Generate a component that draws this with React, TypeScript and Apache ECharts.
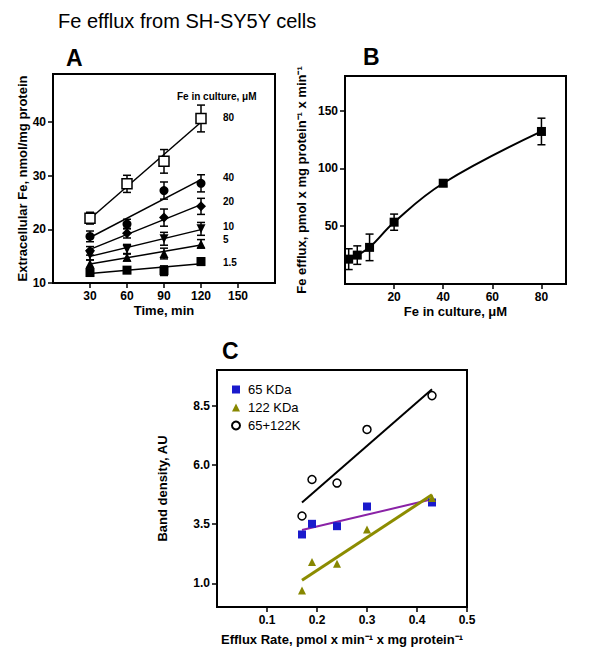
import React, { useEffect, useRef } from "react";
import * as echarts from "echarts";

// ---------- Panel A data ----------
const timeMin = [30, 60, 90, 120];
const aFe80 = [22.1, 28.5, 32.7, 40.7];
const aFe80Err = [1.1, 1.6, 2.2, 2.5];
const aFe40 = [18.7, 21.0, 27.25, 28.6];
const aFe40Err = [1.0, 0.9, 1.6, 1.6];
const aFe20 = [16.0, 19.3, 22.2, 24.3];
const aFe20Err = [0.8, 0.9, 1.6, 1.5];
const aFe10 = [15.2, 16.3, 18.25, 20.1];
const aFe10Err = [0.9, 0.9, 1.2, 1.2];
const aFe5 = [13.6, 14.8, 15.5, 17.3];
const aFe5Err = [0.7, 0.7, 1.0, 0.8];
const aFe1p5 = [11.95, 12.4, 12.3, 14.0];
const aFe1p5Err = [0.6, 0.6, 0.9, 0.7];
const aLevelNames = ["80", "40", "20", "10", "5", "1.5"];
const aXTicks = [30, 60, 90, 120, 150];
const aYTicks = [10, 20, 30, 40];

// ---------- Panel B data ----------
const feCulture = [1.5, 5, 10, 20, 40, 80];
const effluxB = [21.5, 25, 31.7, 53.5, 87.2, 132];
const effluxBErr = [9, 8, 11.5, 7, 2.5, 11.5];
const bXTicks = [20, 40, 60, 80];
const bYTicks = [50, 100, 150];

// ---------- Panel C data ----------
const effluxRate = [0.17, 0.19, 0.24, 0.3, 0.43];
const band65 = [3.06, 3.51, 3.41, 4.24, 4.41];
const band122 = [0.7, 1.9, 1.83, 3.27, 4.6];
const band65122 = [3.84, 5.38, 5.23, 7.49, 8.92];
const cXTicks = [0.1, 0.2, 0.3, 0.4, 0.5];
const cYTicks = [1.0, 3.5, 6.0, 8.5];

const FONT = "'Liberation Sans', Arial, Helvetica, sans-serif";

function fit(xs: number[], ys: number[], x0: number, x1: number) {
  const n = xs.length;
  const mx = xs.reduce((a, b) => a + b, 0) / n;
  const my = ys.reduce((a, b) => a + b, 0) / n;
  let sxy = 0;
  let sxx = 0;
  for (let i = 0; i < n; i++) {
    sxy += (xs[i] - mx) * (ys[i] - my);
    sxx += (xs[i] - mx) * (xs[i] - mx);
  }
  const b = sxy / sxx;
  const a = my - b * mx;
  return [
    [x0, a + b * x0],
    [x1, a + b * x1],
  ];
}

function errSeries(idx: number, xs: number[], ys: number[], errs: number[], cap: number) {
  return {
    type: "custom",
    xAxisIndex: idx,
    yAxisIndex: idx,
    z: 3,
    silent: true,
    data: xs.map((x, i) => [x, ys[i] - errs[i], ys[i] + errs[i]]),
    encode: { x: 0, y: [1, 2] },
    renderItem: (params: any, api: any) => {
      const x = api.value(0);
      const lo = api.coord([x, api.value(1)]);
      const hi = api.coord([x, api.value(2)]);
      const st = { stroke: "#000", lineWidth: 1.5, fill: "none" };
      return {
        type: "group",
        children: [
          { type: "line", shape: { x1: lo[0], y1: lo[1], x2: hi[0], y2: hi[1] }, style: st },
          { type: "line", shape: { x1: lo[0] - cap, y1: lo[1], x2: lo[0] + cap, y2: lo[1] }, style: st },
          { type: "line", shape: { x1: hi[0] - cap, y1: hi[1], x2: hi[0] + cap, y2: hi[1] }, style: st },
        ],
      };
    },
  };
}

function valueAxis(
  idx: number,
  min: number,
  max: number,
  ticks: number[],
  name: string,
  nameGap: number,
  fmt?: (v: number) => string
) {
  return {
    type: "value",
    gridIndex: idx,
    min,
    max,
    name,
    nameLocation: "middle",
    nameGap,
    nameTextStyle: { fontFamily: FONT, fontSize: 13, fontWeight: "bold", color: "#000" },
    splitLine: { show: false },
    axisLine: { show: true, onZero: false, lineStyle: { color: "#000", width: 2 } },
    axisTick: { show: true, length: 5, inside: false, customValues: ticks, lineStyle: { color: "#000", width: 1.5 } },
    axisLabel: {
      customValues: ticks,
      margin: 7,
      fontFamily: FONT,
      fontSize: 12,
      fontWeight: "bold",
      color: "#000",
      formatter: fmt ? (v: number) => fmt(v) : undefined,
    },
  };
}

export default function App() {
  const ref = useRef<HTMLDivElement>(null);
  useEffect(() => {
    if (!ref.current) return;
    const chart = echarts.init(ref.current, undefined, { renderer: "svg" });

    const aGroups = [
      { name: aLevelNames[0], ys: aFe80, errs: aFe80Err, symbol: "rect", size: 10, open: true, rot: 0, dy: -5 },
      { name: aLevelNames[1], ys: aFe40, errs: aFe40Err, symbol: "circle", size: 9, open: false, rot: 0, dy: -2 },
      { name: aLevelNames[2], ys: aFe20, errs: aFe20Err, symbol: "diamond", size: 10, open: false, rot: 0, dy: -3 },
      { name: aLevelNames[3], ys: aFe10, errs: aFe10Err, symbol: "triangle", size: 9, open: false, rot: 180, dy: -3 },
      { name: aLevelNames[4], ys: aFe5, errs: aFe5Err, symbol: "triangle", size: 9, open: false, rot: 0, dy: -6 },
      { name: aLevelNames[5], ys: aFe1p5, errs: aFe1p5Err, symbol: "rect", size: 9, open: false, rot: 0, dy: -1 },
    ];

    const series: any[] = [];
    aGroups.forEach((g) => {
      series.push({
        type: "line",
        name: "fitA" + g.name,
        xAxisIndex: 0,
        yAxisIndex: 0,
        data: fit(timeMin, g.ys, timeMin[0], timeMin[timeMin.length - 1]),
        symbol: "none",
        z: 2,
        lineStyle: { color: "#000", width: 1.5 },
        endLabel: {
          show: true,
          formatter: g.name,
          distance: 22,
          offset: [0, g.dy],
          fontFamily: FONT,
          fontSize: 10,
          fontWeight: "bold",
          color: "#000",
        },
      });
      series.push(errSeries(0, timeMin, g.ys, g.errs, 4));
      series.push({
        type: "scatter",
        name: "A" + g.name,
        xAxisIndex: 0,
        yAxisIndex: 0,
        z: 4,
        data: timeMin.map((t, i) => [t, g.ys[i]]),
        symbol: g.symbol,
        symbolSize: g.size,
        symbolRotate: g.rot,
        itemStyle: g.open
          ? { color: "#fff", borderColor: "#000", borderWidth: 1.5, opacity: 1 }
          : { color: "#000", opacity: 1 },
      });
    });

    // Panel B
    series.push({
      type: "line",
      name: "curveB",
      xAxisIndex: 1,
      yAxisIndex: 1,
      data: feCulture.map((x, i) => [x, effluxB[i]]),
      smooth: 0.4,
      symbol: "none",
      z: 2,
      lineStyle: { color: "#000", width: 2 },
    });
    series.push(errSeries(1, feCulture, effluxB, effluxBErr, 4));
    series.push({
      type: "scatter",
      name: "B",
      xAxisIndex: 1,
      yAxisIndex: 1,
      z: 4,
      data: feCulture.map((x, i) => [x, effluxB[i]]),
      symbol: "rect",
      symbolSize: 9,
      itemStyle: { color: "#000", opacity: 1 },
    });

    // Panel C
    const cx0 = Math.min(...effluxRate);
    const cx1 = Math.max(...effluxRate);
    const cGroups = [
      { name: "65 KDa", ys: band65, symbol: "rect", size: 8, item: { color: "#1a1acc", opacity: 1 }, line: "#8a22a6", lw: 2 },
      { name: "122 KDa", ys: band122, symbol: "triangle", size: 8, item: { color: "#878700", opacity: 1 }, line: "#8c8c00", lw: 3 },
      {
        name: "65+122K",
        ys: band65122,
        symbol: "circle",
        size: 8,
        item: { color: "#fff", borderColor: "#000", borderWidth: 1.5, opacity: 1 },
        line: "#000",
        lw: 2,
      },
    ];
    cGroups.forEach((g) => {
      series.push({
        type: "line",
        name: "fitC" + g.name,
        xAxisIndex: 2,
        yAxisIndex: 2,
        data: fit(effluxRate, g.ys, cx0, cx1),
        symbol: "none",
        z: 2,
        lineStyle: { color: g.line, width: g.lw },
      });
      series.push({
        type: "scatter",
        name: g.name,
        xAxisIndex: 2,
        yAxisIndex: 2,
        z: 4,
        data: effluxRate.map((x, i) => [x, g.ys[i]]),
        symbol: g.symbol,
        symbolSize: g.size,
        itemStyle: g.item,
      });
    });

    const option: any = {
      animation: false,
      backgroundColor: "#fff",
      textStyle: { fontFamily: FONT },
      grid: [
        { left: 53, top: 74, width: 222, height: 209, show: true, borderColor: "#000", borderWidth: 2, backgroundColor: "transparent" },
        { left: 345, top: 76, width: 221, height: 208, show: true, borderColor: "#000", borderWidth: 2, backgroundColor: "transparent" },
        { left: 217, top: 370, width: 250, height: 237, show: true, borderColor: "#000", borderWidth: 2, backgroundColor: "transparent" },
      ],
      xAxis: [
        valueAxis(0, 0, 180, aXTicks, "Time, min", 21),
        valueAxis(1, 0, 90, bXTicks, "Fe in culture, \u03bcM", 21),
        valueAxis(2, 0, 0.5, cXTicks, "Efflux Rate, pmol x min\u207b\u00b9 x mg protein\u207b\u00b9", 26, (v) => v.toFixed(1)),
      ],
      yAxis: [
        valueAxis(0, 10, 49, aYTicks, "Extracellular Fe, nmol/mg protein", 24),
        valueAxis(1, 0, 180, bYTicks, "Fe efflux, pmol x mg protein\u207b\u00b9 x min\u207b\u00b9", 37),
        valueAxis(2, 0, 10, cYTicks, "Band density, AU", 48, (v) => v.toFixed(1)),
      ],
      legend: {
        show: true,
        data: cGroups.map((g) => g.name),
        orient: "vertical",
        left: 226,
        top: 378,
        itemWidth: 8,
        itemHeight: 8,
        itemGap: 5,
        textStyle: { fontFamily: FONT, fontSize: 13, color: "#000", padding: [0, 0, 0, 3] },
      },
      graphic: [
        { type: "text", left: 58, top: 11, style: { text: "Fe efflux from SH-SY5Y cells", font: `20px ${FONT}`, fill: "#000" } },
        { type: "text", left: 66, top: 46, style: { text: "A", font: `bold 23px ${FONT}`, fill: "#000" } },
        { type: "text", left: 363, top: 45, style: { text: "B", font: `bold 23px ${FONT}`, fill: "#000" } },
        { type: "text", left: 222, top: 339, style: { text: "C", font: `bold 23px ${FONT}`, fill: "#000" } },
        { type: "text", left: 177, top: 91, style: { text: "Fe in culture, \u03bcM", font: `bold 10px ${FONT}`, fill: "#000" } },
      ],
      series,
    };
    chart.setOption(option);
    return () => chart.dispose();
  }, []);
  return <div ref={ref} style={{ position: "absolute", left: 0, top: 0, width: 600, height: 662 }} />;
}
